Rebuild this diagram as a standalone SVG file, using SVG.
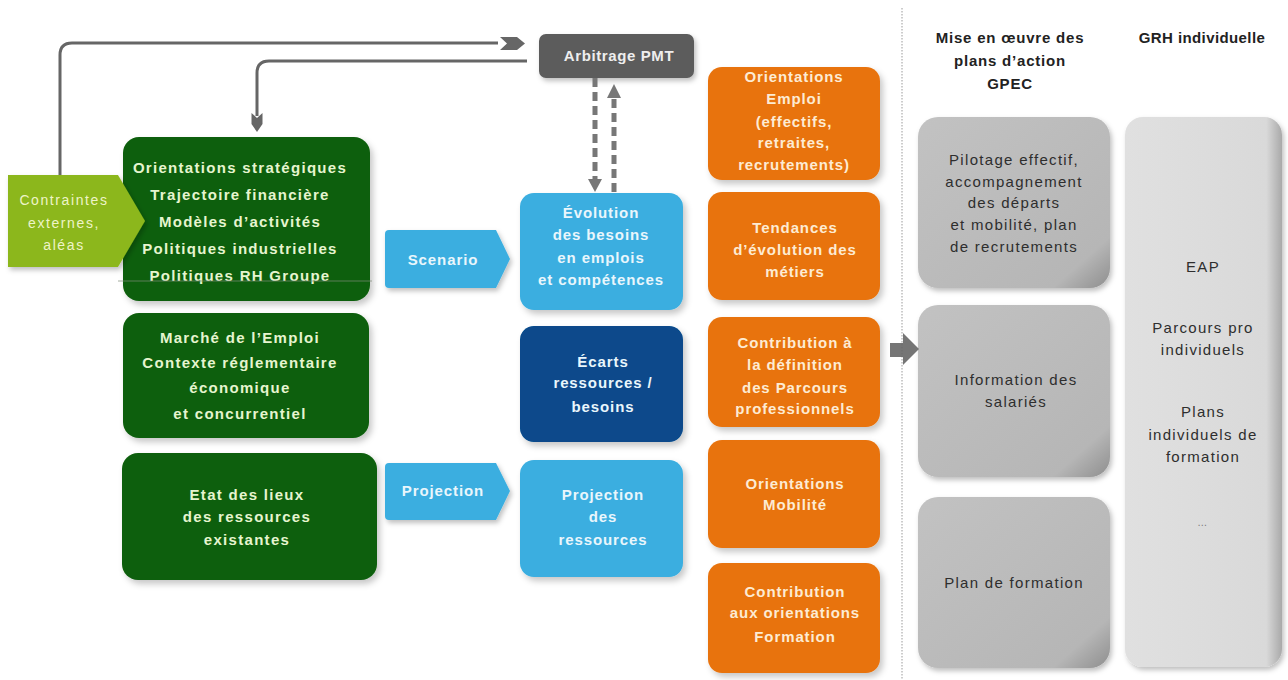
<svg xmlns="http://www.w3.org/2000/svg" width="1288" height="680" viewBox="0 0 1288 680">
<defs>
<filter id="sh" x="-10%" y="-10%" width="130%" height="130%">
<feDropShadow dx="3" dy="4" stdDeviation="3" flood-color="#000" flood-opacity="0.22"/>
</filter>
<filter id="sh2" x="-10%" y="-10%" width="130%" height="130%">
<feDropShadow dx="2" dy="3" stdDeviation="2.5" flood-color="#000" flood-opacity="0.25"/>
</filter>
<linearGradient id="gbox" x1="0" y1="0" x2="1" y2="1">
<stop offset="0" stop-color="#c2c2c2"/>
<stop offset="0.85" stop-color="#b6b6b6"/>
<stop offset="1" stop-color="#8e8e8e"/>
</linearGradient>
<linearGradient id="lbox" x1="0" y1="0" x2="1" y2="0">
<stop offset="0" stop-color="#e0e0e0"/>
<stop offset="0.9" stop-color="#d9d9d9"/>
<stop offset="1" stop-color="#a9a9a9"/>
</linearGradient>
</defs>
<style>
.gr{fill:#0d5f0b}
.lb{fill:#3aaee0}
.db{fill:#074a8b}
.or{fill:#e8730f}
.tg{font-family:"Liberation Sans",Arial,sans-serif;font-weight:bold;font-size:15px;letter-spacing:1.3px;fill:#e6f5cf;text-anchor:middle}
.tb{font-family:"Liberation Sans",Arial,sans-serif;font-weight:bold;font-size:15px;letter-spacing:0.9px;fill:#e9f6fc;text-anchor:middle}
.to{font-family:"Liberation Sans",Arial,sans-serif;font-weight:bold;font-size:15px;letter-spacing:0.9px;fill:#fdebd3;text-anchor:middle}
.tgr{font-family:"Liberation Sans",Arial,sans-serif;font-size:15px;letter-spacing:1.3px;fill:#2e2e2e;text-anchor:middle}
.th{font-family:"Liberation Sans",Arial,sans-serif;font-weight:bold;font-size:15px;letter-spacing:0.8px;fill:#222;text-anchor:middle}
.tc{font-family:"Liberation Sans",Arial,sans-serif;font-size:14px;letter-spacing:1.6px;fill:#eef4c8;text-anchor:middle}
.con{fill:none;stroke:#666;stroke-width:3}
.dash{fill:none;stroke:#777;stroke-width:5;stroke-dasharray:9 5}
</style>
<rect width="1288" height="680" fill="#fff"/>

<g id="green-strategie">
<rect class="gr" x="123" y="137" width="247" height="164" rx="16" filter="url(#sh)"/>
<text class="tg" x="240" y="173">Orientations stratégiques</text>
<text class="tg" x="240" y="200">Trajectoire financière</text>
<text class="tg" x="240" y="227">Modèles d’activités</text>
<text class="tg" x="240" y="254">Politiques industrielles</text>
<text class="tg" x="240" y="281">Politiques RH Groupe</text>
</g>
<g id="contraintes">
<path d="M8,175 H118 L145,221 L118,267 H8 Z" fill="#8cb71c" filter="url(#sh2)"/>
<text class="tc" x="64" y="205">Contraintes</text>
<text class="tc" x="64" y="228">externes,</text>
<text class="tc" x="64" y="250">aléas</text>
</g>
<g id="green-marche">
<rect class="gr" x="123" y="313" width="246" height="125" rx="16" filter="url(#sh)"/>
<text class="tg" x="240" y="343">Marché de l’Emploi</text>
<text class="tg" x="240" y="368">Contexte réglementaire</text>
<text class="tg" x="240" y="393">économique</text>
<text class="tg" x="240" y="419">et concurrentiel</text>
</g>
<g id="green-etat">
<rect class="gr" x="122" y="453" width="255" height="127" rx="16" filter="url(#sh)"/>
<text class="tg" x="247" y="500">Etat des lieux</text>
<text class="tg" x="247" y="522">des ressources</text>
<text class="tg" x="247" y="545">existantes</text>
</g>

<g id="scenario">
<path d="M389,230 H496 L510,259 L496,288 H389 Q385,288 385,284 V234 Q385,230 389,230 Z" class="lb" filter="url(#sh2)"/>
<text class="tb" x="443" y="265">Scenario</text>
</g>
<g id="projection-arrow">
<path d="M389,463 H496 L510,491 L496,520 H389 Q385,520 385,516 V467 Q385,463 389,463 Z" class="lb" filter="url(#sh2)"/>
<text class="tb" x="443" y="496">Projection</text>
</g>

<g id="arbitrage">
<rect x="539" y="34" width="155" height="44" rx="7" fill="#5b5b5b" filter="url(#sh2)"/>
<text x="619" y="61" font-family="Liberation Sans,Arial,sans-serif" font-weight="bold" font-size="15" letter-spacing="0.6" fill="#eeeeee" text-anchor="middle">Arbitrage PMT</text>
</g>

<g id="evolution">
<rect class="lb" x="520" y="193" width="163" height="117" rx="14" filter="url(#sh)"/>
<text class="tb" x="601" y="218">Évolution</text>
<text class="tb" x="601" y="240">des besoins</text>
<text class="tb" x="601" y="263">en emplois</text>
<text class="tb" x="601" y="285">et compétences</text>
</g>
<g id="ecarts">
<rect class="db" x="520" y="326" width="163" height="116" rx="14" filter="url(#sh)"/>
<text class="tb" x="603" y="367">Écarts</text>
<text class="tb" x="603" y="388">ressources /</text>
<text class="tb" x="603" y="412">besoins</text>
</g>
<g id="projection">
<rect class="lb" x="520" y="460" width="163" height="117" rx="14" filter="url(#sh)"/>
<text class="tb" x="603" y="500">Projection</text>
<text class="tb" x="603" y="522">des</text>
<text class="tb" x="603" y="545">ressources</text>
</g>

<g id="orient-emploi">
<rect class="or" x="708" y="67" width="172" height="113" rx="14" filter="url(#sh)"/>
<text class="to" x="794" y="82">Orientations</text>
<text class="to" x="794" y="104">Emploi</text>
<text class="to" x="794" y="127">(effectifs,</text>
<text class="to" x="794" y="148">retraites,</text>
<text class="to" x="794" y="170">recrutements)</text>
</g>
<g id="tendances">
<rect class="or" x="708" y="192" width="172" height="108" rx="14" filter="url(#sh)"/>
<text class="to" x="795" y="233">Tendances</text>
<text class="to" x="795" y="255">d’évolution des</text>
<text class="to" x="795" y="277">métiers</text>
</g>
<g id="parcours">
<rect class="or" x="708" y="317" width="172" height="110" rx="14" filter="url(#sh)"/>
<text class="to" x="795" y="348">Contribution à</text>
<text class="to" x="795" y="370">la définition</text>
<text class="to" x="795" y="393">des Parcours</text>
<text class="to" x="795" y="414">professionnels</text>
</g>
<g id="mobilite">
<rect class="or" x="708" y="440" width="172" height="108" rx="14" filter="url(#sh)"/>
<text class="to" x="795" y="489">Orientations</text>
<text class="to" x="795" y="510">Mobilité</text>
</g>
<g id="formation">
<rect class="or" x="708" y="563" width="172" height="110" rx="14" filter="url(#sh)"/>
<text class="to" x="795" y="597">Contribution</text>
<text class="to" x="795" y="618">aux orientations</text>
<text class="to" x="795" y="642">Formation</text>
</g>

<line x1="902" y1="8" x2="902" y2="680" stroke="#9a9a9a" stroke-width="1" stroke-dasharray="1.5 1.5"/>

<g id="header-gpec">
<text class="th" x="1010" y="43">Mise en œuvre des</text>
<text class="th" x="1010" y="66">plans d’action</text>
<text class="th" x="1010" y="89">GPEC</text>
</g>
<g id="header-grh">
<text class="th" x="1202" y="43" style="letter-spacing:0.4px">GRH individuelle</text>
</g>

<g id="pilotage">
<rect x="918" y="117" width="192" height="171" rx="20" fill="url(#gbox)" filter="url(#sh2)"/>
<text class="tgr" x="1014" y="165">Pilotage effectif,</text>
<text class="tgr" x="1014" y="187">accompagnement</text>
<text class="tgr" x="1014" y="208">des départs</text>
<text class="tgr" x="1014" y="230">et mobilité, plan</text>
<text class="tgr" x="1014" y="252">de recrutements</text>
</g>
<g id="information">
<rect x="918" y="305" width="192" height="172" rx="20" fill="url(#gbox)" filter="url(#sh2)"/>
<text class="tgr" x="1016" y="385">Information des</text>
<text class="tgr" x="1016" y="407">salariés</text>
</g>
<g id="plan-formation">
<rect x="918" y="497" width="192" height="171" rx="20" fill="url(#gbox)" filter="url(#sh2)"/>
<text class="tgr" x="1014" y="588">Plan de formation</text>
</g>
<g id="grh-individuelle">
<rect x="1125" y="117" width="157" height="550" rx="18" fill="url(#lbox)" filter="url(#sh2)"/>
<text class="tgr" x="1203" y="272">EAP</text>
<text class="tgr" x="1203" y="333">Parcours pro</text>
<text class="tgr" x="1203" y="355">individuels</text>
<text class="tgr" x="1203" y="417">Plans</text>
<text class="tgr" x="1203" y="440">individuels de</text>
<text class="tgr" x="1203" y="462">formation</text>
<text class="tgr" x="1203" y="526" style="font-size:10px;fill:#777">…</text>
</g>

<g id="connectors">
<path class="con" d="M60,175 V55 Q60,43 72,43 H498"/>
<path d="M500,37 H517 L525,43.5 L517,50 H500 L507,43.5 Z" fill="#666"/>
<path class="con" d="M527,61 H269 Q257,61 257,73 V116"/>
<path d="M251.5,113 L257,118 L262.5,113 V124 L257,132 L251.5,124 Z" fill="#666"/>
<path class="dash" d="M595,78 V180"/>
<path d="M588,179 H602 L595,192 Z" fill="#777"/>
<path class="dash" d="M614,192 V97"/>
<path d="M607,98 H621 L614,84 Z" fill="#777"/>
<line x1="118" y1="281" x2="372" y2="281" stroke="#7f8a78" stroke-width="1" opacity="0.7"/>
<path d="M890,343 H903 V333 L919,349 L903,365 V357 H890 Z" fill="#666" opacity="0.9"/>
</g>
</svg>
